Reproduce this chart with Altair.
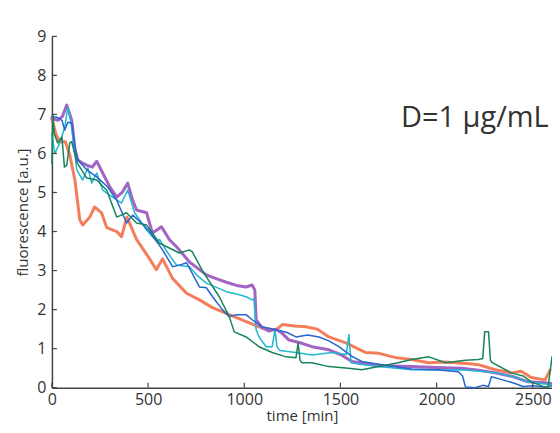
import altair as alt
import pandas as pd

# ---- data ----
orange_t = [0, 20, 40, 70, 93, 120, 145, 160, 197, 222, 258, 285, 337, 362, 390, 440, 508, 543, 575, 627,
            700, 767, 835, 922, 1010, 1093, 1165, 1200, 1260, 1320, 1380, 1440, 1528, 1632, 1700, 1787, 1870,
            1958, 2040, 2098, 2160, 2217, 2305, 2388, 2440, 2492, 2564, 2590]
orange_v = [6.9, 6.5, 6.3, 6.3, 5.96, 5.3, 4.3, 4.17, 4.37, 4.63, 4.48, 4.1, 4.0, 3.87, 4.37, 3.8, 3.3, 3.02, 3.3, 2.8,
            2.42, 2.25, 2.05, 1.87, 1.69, 1.53, 1.48, 1.62, 1.58, 1.56, 1.5, 1.3, 1.15, 0.9, 0.88, 0.77, 0.72,
            0.64, 0.66, 0.64, 0.62, 0.59, 0.46, 0.38, 0.42, 0.26, 0.2, 0.45]

purple_t = [0, 30, 55, 77, 103, 120, 135, 160, 181, 210, 233, 264, 300, 337, 365, 394, 420, 440, 492, 523, 570,
            611, 650, 715, 760, 803, 850, 907, 960, 1010, 1041, 1055, 1062, 1093, 1130, 1165, 1200, 1233, 1290,
            1352, 1440, 1500, 1560, 1700, 1870, 2000, 2129, 2220, 2305, 2400, 2476, 2580, 2600]
purple_v = [6.9, 6.85, 6.95, 7.24, 6.85, 6.1, 5.83, 5.75, 5.7, 5.65, 5.8, 5.5, 5.15, 4.88, 5.0, 5.24, 4.8, 4.55,
            4.48, 3.96, 4.12, 3.79, 3.6, 3.22, 3.05, 2.89, 2.8, 2.7, 2.62, 2.58, 2.63, 2.5, 1.74, 1.53, 1.45, 1.5,
            1.38, 1.22, 1.15, 1.05, 0.97, 0.85, 0.67, 0.56, 0.54, 0.52, 0.5, 0.45, 0.38, 0.28, 0.15, 0.12, 0.1]

cyan_t = [0, 5, 15, 41, 67, 83, 103, 129, 160, 187, 207, 233, 264, 316, 362, 394, 430, 492, 544, 560, 596, 648,
          715, 760, 803, 907, 960, 1010, 1041, 1050, 1062, 1077, 1114, 1145, 1160, 1170, 1185, 1269, 1352, 1456,
          1530, 1544, 1555, 1600, 1700, 1870, 2000, 2129, 2220, 2305, 2400, 2476, 2550, 2600]
cyan_v = [6.5, 6.35, 6.0, 6.27, 6.68, 7.19, 6.68, 5.58, 5.32, 5.63, 5.24, 5.5, 5.06, 4.88, 4.73, 5.06, 4.48, 4.04,
          3.75, 3.8, 3.5, 3.14, 3.1, 2.85, 2.68, 2.46, 2.4, 2.33, 2.25, 2.28, 1.48, 1.3, 1.05, 1.05, 1.48, 1.05,
          0.95, 0.9, 0.84, 0.9, 0.85, 1.36, 0.64, 0.6, 0.54, 0.46, 0.45, 0.46, 0.42, 0.38, 0.28, 0.15, 0.1, 0.08]

blue_t = [0, 25, 52, 67, 83, 103, 120, 135, 181, 233, 290, 337, 388, 420, 470, 508, 575, 627, 663, 700, 767, 803,
          835, 886, 922, 958, 1010, 1041, 1093, 1165, 1220, 1269, 1330, 1388, 1440, 1492, 1560, 1611, 1700, 1870,
          2000, 2113, 2135, 2150, 2200, 2240, 2270, 2285, 2330, 2400, 2450, 2500, 2560, 2600]
blue_v = [6.95, 6.93, 6.85, 6.6, 6.8, 6.78, 6.16, 5.83, 5.58, 5.4, 5.14, 4.8, 4.22, 4.42, 4.2, 4.0, 3.53, 3.1, 3.14,
          3.2, 2.58, 2.56, 2.33, 2.0, 1.82, 1.87, 1.87, 1.74, 1.56, 1.48, 1.42, 1.3, 1.35, 1.3, 1.2, 1.05, 0.8,
          0.67, 0.6, 0.48, 0.46, 0.41, 0.3, 0.02, 0.0, 0.06, 0.03, 0.28, 0.22, 0.12, 0.03, 0.05, 0.02, 0.05]

green_t = [0, 5, 12, 30, 52, 65, 77, 93, 103, 129, 181, 233, 285, 337, 388, 440, 492, 560, 663, 715, 730, 782, 870,
           922, 948, 1010, 1077, 1145, 1217, 1269, 1280, 1290, 1300, 1352, 1440, 1540, 1611, 1700, 1800, 1870,
           1960, 2046, 2150, 2217, 2240, 2250, 2270, 2280, 2290, 2388, 2450, 2492, 2560, 2580, 2600]
green_v = [5.75, 6.98, 6.5, 6.27, 6.42, 5.65, 5.7, 6.27, 6.3, 5.78, 5.37, 5.32, 5.06, 4.37, 4.48, 4.22, 4.17, 3.7,
           3.45, 3.53, 3.48, 3.0, 2.33, 1.82, 1.43, 1.3, 1.05, 0.9, 0.79, 0.77, 1.15, 0.7, 0.64, 0.64, 0.54, 0.5,
           0.46, 0.54, 0.64, 0.72, 0.79, 0.64, 0.7, 0.72, 0.75, 1.43, 1.43, 0.7, 0.64, 0.38, 0.3, 0.15, 0.02,
           0.02, 0.79]

x_ticks = [0, 500, 1000, 1500, 2000, 2500]
y_ticks = [0, 1, 2, 3, 4, 5, 6, 7, 8, 9]
label_text = "D=1 \u03bcg/mL"
label_time = [1815]
label_value = [6.67]

FONT = "Open Sans"
AXC = "#444444"

x_scale = alt.Scale(domain=[0, 2600], nice=False, zero=False)
y_scale = alt.Scale(domain=[0, 9], nice=False, zero=False)

X = alt.X("time:Q", scale=x_scale,
          axis=alt.Axis(values=x_ticks, format="d", title="time [min]", labelFlush=False, labelPadding=4,
                        titlePadding=1, labelOverlap=False))
Y = alt.Y("value:Q", scale=y_scale,
          axis=alt.Axis(values=y_ticks, format="d", title="fluorescence [a.u.]", labelPadding=6,
                        titlePadding=6, labelOverlap=False))


def series(t, v, color, width):
    df = pd.DataFrame({"time": t, "value": v})
    return alt.Chart(df).mark_line(color=color, strokeWidth=width, strokeJoin="round",
                                   strokeCap="round").encode(x=X, y=Y)


layers = [
    series(orange_t, orange_v, "#F47E5C", 3.0),
    series(purple_t, purple_v, "#A364C4", 3.0),
    series(cyan_t, cyan_v, "#22B6D2", 1.5),
    series(blue_t, blue_v, "#2766CF", 1.5),
    series(green_t, green_v, "#17845A", 1.5),
]

ytick_df = pd.DataFrame({"value": y_ticks})
xtick_df = pd.DataFrame({"time": x_ticks})
yticks = alt.Chart(ytick_df).mark_rule(color=AXC, strokeWidth=1.2).encode(
    y=Y, x=alt.value(0), x2=alt.value(5))
xticks = alt.Chart(xtick_df).mark_rule(color=AXC, strokeWidth=1.2).encode(
    x=X, y=alt.value(352), y2=alt.value(347))

label_df = pd.DataFrame({"time": label_time, "value": label_value, "txt": [label_text]})
label = alt.Chart(label_df).mark_text(align="left", baseline="alphabetic", fontSize=29, font=FONT,
                                      color="#333333").encode(x=X, y=Y, text="txt:N")

chart = alt.layer(*layers, yticks, xticks, label).properties(
    width=501, height=352,
    autosize=alt.AutoSizeParams(type="none"),
    padding={"left": 44, "top": 28, "right": 0, "bottom": 42},
).configure_view(stroke=None).configure_axis(
    grid=False, ticks=False, domainColor=AXC, domainWidth=1.5,
    labelFont=FONT, labelFontSize=16, labelColor="#333333",
    titleFont=FONT, titleFontSize=15, titleFontWeight="normal", titleColor="#333333",
)

chart.save("out.html", embed_options={"renderer": "svg", "actions": False})
